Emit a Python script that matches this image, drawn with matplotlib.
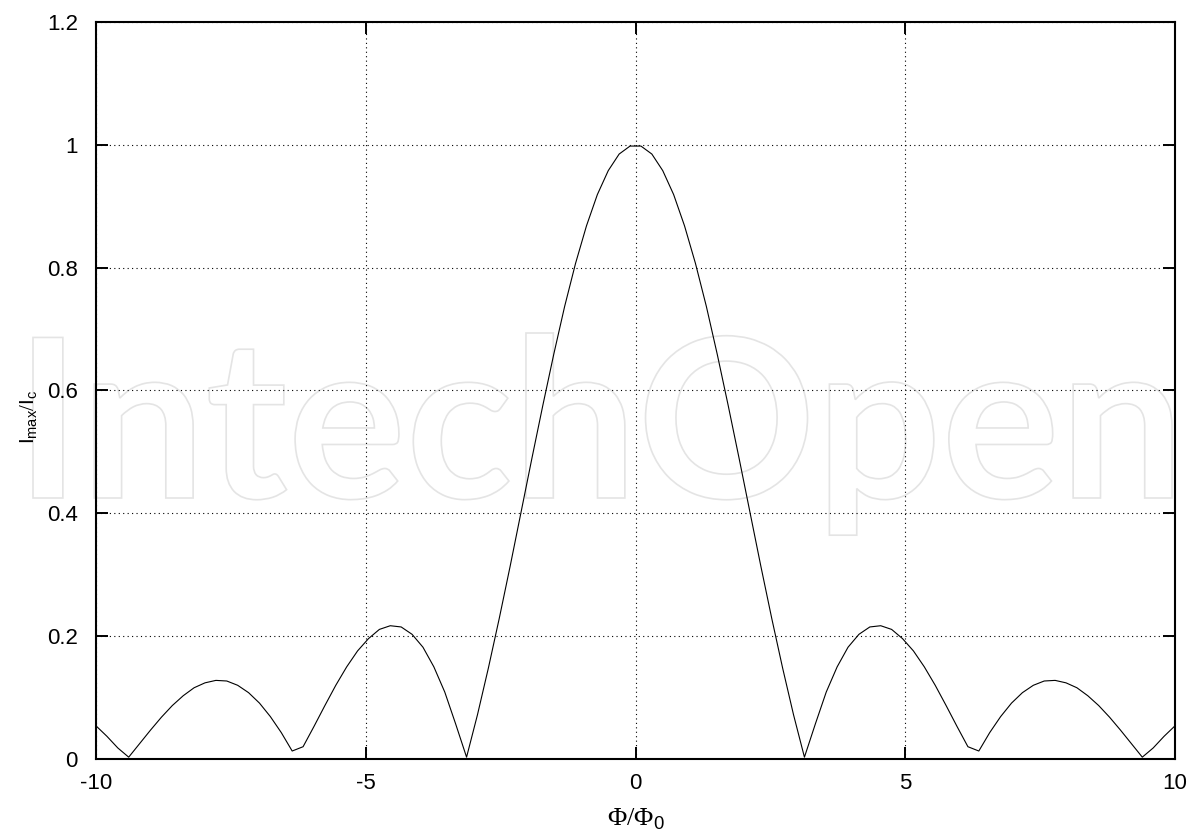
import numpy as np
import matplotlib
matplotlib.use("Agg")
import matplotlib.pyplot as plt
from matplotlib.textpath import TextPath
from matplotlib.font_manager import FontProperties
from matplotlib.patches import PathPatch
from matplotlib.path import Path
from matplotlib.transforms import Affine2D, IdentityTransform

plt.rcParams['font.family'] = ['Liberation Sans', 'DejaVu Sans']
plt.rcParams['axes.unicode_minus'] = False
plt.rcParams['mathtext.fontset'] = 'custom'
plt.rcParams['mathtext.rm'] = 'Liberation Serif'
plt.rcParams['mathtext.it'] = 'Liberation Sans'
plt.rcParams['mathtext.sf'] = 'Liberation Sans'

# 100 samples on [-10, 10]
flux = np.linspace(-10, 10, 100)

# right half (x > 0)
i_right = [0.998, 0.985, 0.958, 0.919, 0.868, 0.807, 0.737, 0.659, 0.576, 0.490,
           0.402, 0.314, 0.229, 0.148, 0.072, 0.003, 0.057, 0.109, 0.150, 0.182,
           0.203, 0.215, 0.217, 0.211, 0.196, 0.176, 0.150, 0.120, 0.087, 0.053,
           0.020, 0.013, 0.043, 0.069, 0.091, 0.108, 0.120, 0.127, 0.128, 0.124,
           0.116, 0.103, 0.087, 0.068, 0.047, 0.025, 0.003, 0.018, 0.037, 0.054]
# left half (x < 0)
i_left = [0.054, 0.037, 0.018, 0.003, 0.025, 0.047, 0.068, 0.087, 0.103, 0.116,
          0.124, 0.128, 0.127, 0.120, 0.108, 0.091, 0.069, 0.043, 0.013, 0.020,
          0.053, 0.087, 0.120, 0.150, 0.176, 0.196, 0.211, 0.217, 0.215, 0.203,
          0.182, 0.150, 0.109, 0.057, 0.003, 0.072, 0.148, 0.229, 0.314, 0.402,
          0.490, 0.576, 0.659, 0.737, 0.807, 0.868, 0.919, 0.958, 0.985, 0.998]
i_max = i_left + i_right

x_ticks = [-10, -5, 0, 5, 10]
y_ticks = [0, 0.2, 0.4, 0.6, 0.8, 1, 1.2]
y_ticklabels = ["0", "0.2", "0.4", "0.6", "0.8", "1", "1.2"]

W, H = 1194, 833
fig = plt.figure(figsize=(W / 100, H / 100), dpi=100)
ax = fig.add_axes([96 / W, 1 - 759 / H, (1175 - 96) / W, (759 - 22) / H])
ax.set_facecolor('none')

# watermark, outlined letters
tp = TextPath((0, 0), "IntechOpen", size=100,
              prop=FontProperties(family="Lato", weight="bold"))
v = tp.vertices[tp.codes != Path.CLOSEPOLY]
x0, x1 = v[:, 0].min(), v[:, 0].max()
sx = (1172 - 33) / (x1 - x0)
sy = (498 - 339) / 71.6
tr = Affine2D().translate(-x0, 0).scale(sx, sy).translate(33, H - 498)
wm = PathPatch(tr.transform_path(tp), facecolor='none', edgecolor='#e4e4e4',
               lw=1.2, transform=IdentityTransform(), zorder=0)
fig.add_artist(wm)

ax.plot(flux, i_max, color='black', lw=0.8, zorder=3)

ax.set_xlim(-10, 10)
ax.set_ylim(0, 1.2)
ax.set_xticks(x_ticks)
ax.set_xticklabels([str(t) for t in x_ticks])
ax.set_yticks(y_ticks)
ax.set_yticklabels(y_ticklabels)
ax.grid(True, color='black', lw=0.8, linestyle=(0, (1, 3)))
ax.tick_params(direction='in', length=8.5, width=1.4, top=True, right=True,
               labelsize=16, colors='black')
ax.tick_params(axis='x', pad=10)
ax.tick_params(axis='y', pad=13)
for s in ax.spines.values():
    s.set_linewidth(1.5)

ax.set_xlabel(r'$\Phi/\Phi_\mathsf{0}$', fontsize=19)
ax.xaxis.set_label_coords(0.5, (759 - 807) / 737, transform=ax.transAxes)
ax.xaxis.label.set_va('top')
ax.set_ylabel(r'$I_{max}/I_c$', fontsize=15)
ax.yaxis.set_label_coords((40 - 96) / 1079, 0.465)

fig.savefig("out.png", dpi=100)
